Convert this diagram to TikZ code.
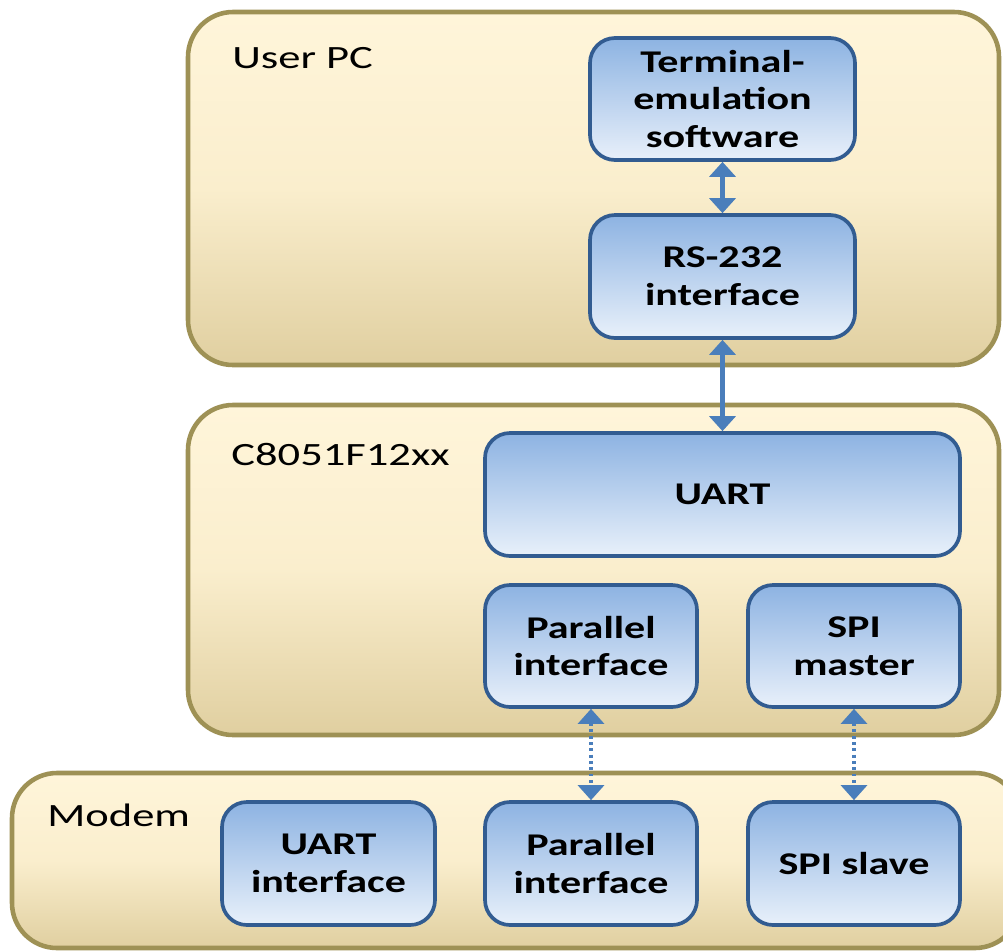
\documentclass[tikz,border=0pt]{standalone}
\usepackage{fontspec}
\setmainfont{Carlito}
\usetikzlibrary{arrows.meta}
\definecolor{cream}{RGB}{255,245,218}
\definecolor{creammid}{RGB}{250,238,205}
\definecolor{tan}{RGB}{224,207,160}
\definecolor{olive}{RGB}{158,145,85}
\definecolor{bluetop}{RGB}{141,179,226}
\definecolor{bluebot}{RGB}{232,240,250}
\definecolor{blueedge}{RGB}{50,92,145}
\definecolor{arrowblue}{RGB}{74,126,187}
\newcommand{\hs}[1]{\scalebox{1.33}[1]{#1}}
\newcommand{\hl}[1]{\scalebox{1.37}[1]{#1}}
\tikzset{
  container/.style={draw=olive, line width=2.6pt, rounded corners=0.9cm,
    top color=cream, bottom color=tan, middle color=creammid},
  blockbox/.style={draw=blueedge, line width=2.1pt, rounded corners=0.5cm,
    top color=bluetop, bottom color=bluebot, align=center, inner sep=0pt,
    font=\fontsize{18}{21.5}\selectfont\bfseries},
  grouplabel/.style={anchor=base west, inner sep=0pt, font=\fontsize{18.5}{22}\selectfont},
  solidlink/.style={draw=arrowblue, line width=2.3pt,
    {Triangle[width=0.52cm,length=0.3cm]}-{Triangle[width=0.52cm,length=0.3cm]}},
  dottedlink/.style={draw=arrowblue, line width=1.8pt, dash pattern=on 1.6pt off 2pt,
    {Triangle[width=0.52cm,length=0.3cm]}-{Triangle[width=0.52cm,length=0.3cm]}}
}
\begin{document}
\begin{tikzpicture}
\useasboundingbox (0,0) rectangle (20.06,-19.02);
\begin{scope}
\clip (0,0) rectangle (20.06,-19.02);
% containers
\path[container] (3.76,-0.24) rectangle (19.98,-7.3);
\path[container] (3.76,-8.1) rectangle (19.98,-14.7);
\path[container] (0.24,-15.46) rectangle (20.4,-18.96);
\end{scope}
\node[grouplabel] (lpc) at (4.64,-1.36) {\hl{User PC}};
\node[grouplabel] (lmcu) at (4.62,-9.3) {\hl{C8051F12xx}};
\node[grouplabel] (lmodem) at (0.94,-16.52) {\hl{Modem}};
% blocks
\node[blockbox, minimum width=5.3cm, minimum height=2.44cm] (term) at (14.45,-1.98)
  {\hs{Terminal-}\\\hs{emulation}\\\hs{software}};
\node[blockbox, minimum width=5.3cm, minimum height=2.46cm] (rs) at (14.45,-5.53)
  {\hs{RS-232}\\\hs{interface}};
\node[blockbox, minimum width=9.5cm, minimum height=2.46cm] (uart) at (14.45,-9.89)
  {\hs{UART}};
\node[blockbox, minimum width=4.24cm, minimum height=2.44cm] (par1) at (11.82,-12.92)
  {\hs{Parallel}\\\hs{interface}};
\node[blockbox, minimum width=4.24cm, minimum height=2.44cm] (spim) at (17.08,-12.92)
  {\hs{SPI}\\\hs{master}};
\node[blockbox, minimum width=4.26cm, minimum height=2.46cm] (uarti) at (6.57,-17.27)
  {\hs{UART}\\\hs{interface}};
\node[blockbox, minimum width=4.24cm, minimum height=2.46cm] (par2) at (11.82,-17.27)
  {\hs{Parallel}\\\hs{interface}};
\node[blockbox, minimum width=4.24cm, minimum height=2.46cm] (spis) at (17.08,-17.27)
  {\hs{SPI slave}};
% links
\draw[solidlink] (term.south) -- (rs.north);
\draw[solidlink] (rs.south) -- (uart.north);
\draw[dottedlink] (par1.south) -- (par2.north);
\draw[dottedlink] (spim.south) -- (spis.north);
\end{tikzpicture}
\end{document}
